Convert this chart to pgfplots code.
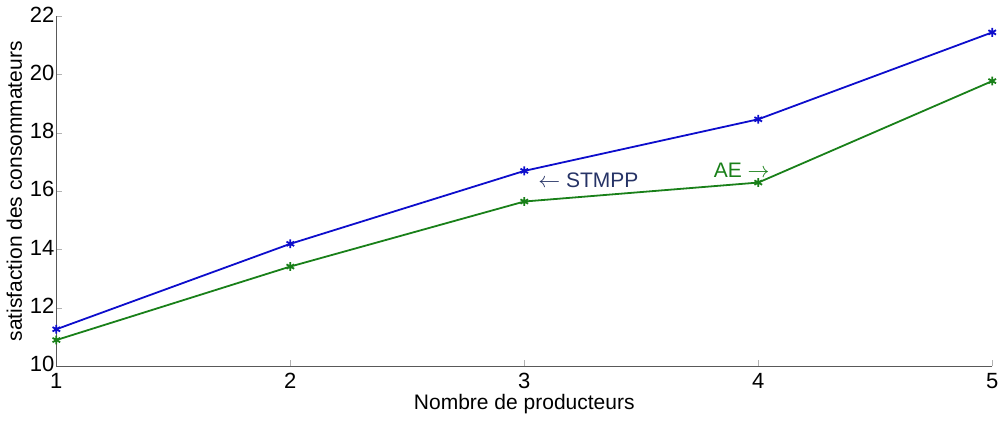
\documentclass[border=0pt]{standalone}
\usepackage{pgfplots}
\pgfplotsset{compat=1.18}
\usepackage{fontspec}
\setmainfont{Liberation Sans}
\definecolor{mblue}{rgb}{0.05,0.05,0.8}
\definecolor{mgreen}{rgb}{0.1,0.5,0.1}
\definecolor{navytext}{rgb}{0.15,0.2,0.4}

\begin{document}
\begin{tikzpicture}
\begin{axis}[
    scale only axis,
    width=468pt, height=175pt,
    xmin=1, xmax=5, ymin=10, ymax=22,
    xtick={1,2,3,4,5},
    ytick={10,12,...,22},
    axis lines=left,
    axis line style={-, gray!70!black, line width=0.5pt},
    tick style={gray!60, line width=0.4pt},
    tick align=inside,
    major tick length=3pt,
    ticklabel style={font=\fontsize{11}{12}\selectfont},
    xticklabel style={yshift=0pt},
    yticklabel style={xshift=2.5pt, yshift=1pt},
    /pgf/number format/assume math mode=true,
    xlabel={Nombre de producteurs},
    ylabel={satisfaction des consommateurs},
    label style={font=\fontsize{10.5}{12}\selectfont},
    xlabel style={yshift=4pt},
    ylabel style={yshift=-3pt},
    clip=false,
]
\addplot[mblue, line width=0.9pt, mark=asterisk, mark size=2.2pt]
  coordinates {(1,11.27) (2,14.2) (3,16.7) (4,18.47) (5,21.45)};
\addplot[mgreen, line width=0.9pt, mark=asterisk, mark size=2.2pt]
  coordinates {(1,10.9) (2,13.42) (3,15.65) (4,16.3) (5,19.78)};
\node[anchor=west, text=navytext, font=\fontsize{10.5}{12}\selectfont] at (axis cs:3.03,16.38) {$\leftarrow$ STMPP};
\node[anchor=west, text=mgreen, font=\fontsize{10.5}{12}\selectfont] at (axis cs:3.78,16.72) {AE $\rightarrow$};
\end{axis}
\end{tikzpicture}
\end{document}
